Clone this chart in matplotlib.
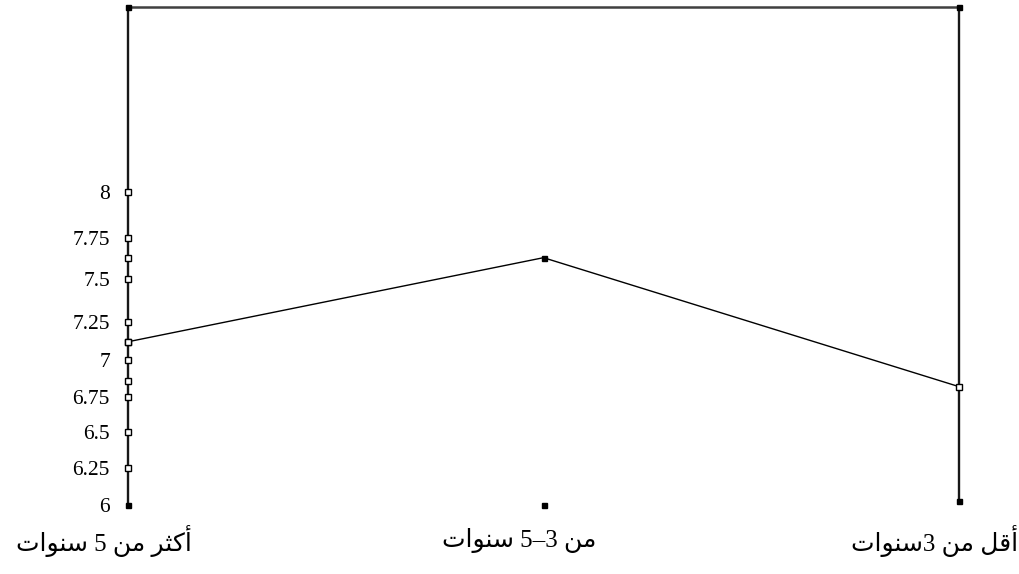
import numpy as np
import matplotlib
matplotlib.use("Agg")
import matplotlib.pyplot as plt
from matplotlib import transforms

# ---- data -------------------------------------------------------------
categories = ["أكثر من 5 سنوات", "من 3–5 سنوات", "أقل من 3سنوات"]
means = [7.12, 7.63, 6.82]
tick_values = [6, 6.25, 6.5, 6.75, 7, 7.25, 7.5, 7.75, 8]
tick_labels = ["6", "6.25", "6.5", "6.75", "7", "7.25", "7.5", "7.75", "8"]
value_marks = [7.12, 7.63, 6.86]

# ---- minimal Arabic shaping (contextual forms + visual order) ---------
FORMS = {  # isolated, final, initial, medial
    "\u0627": ("\uFE8D", "\uFE8E", None, None),
    "\u0623": ("\uFE83", "\uFE84", None, None),
    "\u062A": ("\uFE95", "\uFE96", "\uFE97", "\uFE98"),
    "\u062B": ("\uFE99", "\uFE9A", "\uFE9B", "\uFE9C"),
    "\u0631": ("\uFEAD", "\uFEAE", None, None),
    "\u0633": ("\uFEB1", "\uFEB2", "\uFEB3", "\uFEB4"),
    "\u0642": ("\uFED5", "\uFED6", "\uFED7", "\uFED8"),
    "\u0643": ("\uFED9", "\uFEDA", "\uFEDB", "\uFEDC"),
    "\u0644": ("\uFEDD", "\uFEDE", "\uFEDF", "\uFEE0"),
    "\u0645": ("\uFEE1", "\uFEE2", "\uFEE3", "\uFEE4"),
    "\u0646": ("\uFEE5", "\uFEE6", "\uFEE7", "\uFEE8"),
    "\u0648": ("\uFEED", "\uFEEE", None, None),
}


def _dual(ch):
    return ch in FORMS and FORMS[ch][2] is not None


def shape(text):
    out = []
    for i, ch in enumerate(text):
        if ch not in FORMS:
            out.append(ch)
            continue
        prev = text[i - 1] if i > 0 else ""
        nxt = text[i + 1] if i + 1 < len(text) else ""
        jp = _dual(prev)
        jn = _dual(ch) and nxt in FORMS
        iso, fin, ini, med = FORMS[ch]
        if jp and jn:
            out.append(med)
        elif jp:
            out.append(fin)
        elif jn:
            out.append(ini)
        else:
            out.append(iso)
    vis = "".join(out)[::-1]
    # keep digit runs left-to-right
    res, run = [], []
    for ch in vis:
        if ch.isdigit():
            run.append(ch)
        else:
            res.extend(run[::-1]); run = []
            res.append(ch)
    res.extend(run[::-1])
    return "".join(res)


# ---- value axis geometry (uneven spacing of the value axis) ----------
axis_vals = np.array([6, 6.25, 6.5, 6.75, 7, 7.25, 7.5, 7.75, 8, 9])
axis_pos = np.array([0, 37, 73, 108, 145, 183, 226, 267, 313, 498], dtype=float)


def fwd(v):
    return np.interp(v, axis_vals, axis_pos)


def inv(p):
    return np.interp(p, axis_pos, axis_vals)


# ---- figure -----------------------------------------------------------
W, H = 1019, 574
fig = plt.figure(figsize=(W / 100, H / 100), dpi=100)
ax = fig.add_axes([128 / W, 1 - 505 / H, (959 - 128) / W, 498 / H])
ax.set_yscale("function", functions=(fwd, inv))
ax.set_xlim(0, 2)
ax.set_ylim(6, 9)
for s in ax.spines.values():
    s.set_visible(False)

x = np.arange(len(categories))
ymin, ymax = 6, 9
frame_kw = dict(color="#181818", lw=1.7, solid_capstyle="butt", clip_on=False, zorder=2)
ax.plot([0, 0], [ymin, ymax], **frame_kw)
ax.plot([2, 2], [6.03, ymax], **frame_kw)
ax.plot([0, 2], [ymax, ymax], color="#404040", lw=1.8, clip_on=False, zorder=2)

# frame corner / base markers
sq_fill = dict(marker="s", ms=3.6, mfc="black", mec="black", ls="none", clip_on=False, zorder=4)
ax.plot([0, 2], [ymax, ymax], **sq_fill)
ax.plot([0, 1, 2], [ymin, ymin, 6.03], **sq_fill)

# open square tick marks on the value axis
sq_open = dict(marker="s", ms=4.6, mfc="white", mec="black", mew=1.0, ls="none", clip_on=False, zorder=4)
ax.plot(np.zeros(len(tick_values) - 1), tick_values[1:], **sq_open)
ax.plot(np.zeros(len(value_marks)), value_marks, **sq_open)

# mean line
ax.plot(x, means, color="black", lw=1.0, zorder=3, clip_on=False)
ax.plot([x[0], x[2]], [means[0], means[2]], **sq_open)
ax.plot([x[1]], [means[1]], **sq_fill)

# tick labels
ax.set_yticks(tick_values)
ax.set_yticklabels(tick_labels, family=["Liberation Serif", "DejaVu Serif"], fontsize=15.5)
ax.tick_params(axis="y", length=0, pad=13)
ax.set_xticks([])

# category labels
shift = transforms.ScaledTranslation(-0.24, 0, fig.dpi_scale_trans)
trans = transforms.blended_transform_factory(ax.transData, ax.transAxes) + shift
for xi, lab in zip(x, categories):
    ax.text(xi, -0.072, shape(lab), transform=trans, ha="center", va="center",
            fontsize=18, family=["Liberation Serif", "DejaVu Sans"], clip_on=False)

fig.savefig("out.png", dpi=100, facecolor="white")
